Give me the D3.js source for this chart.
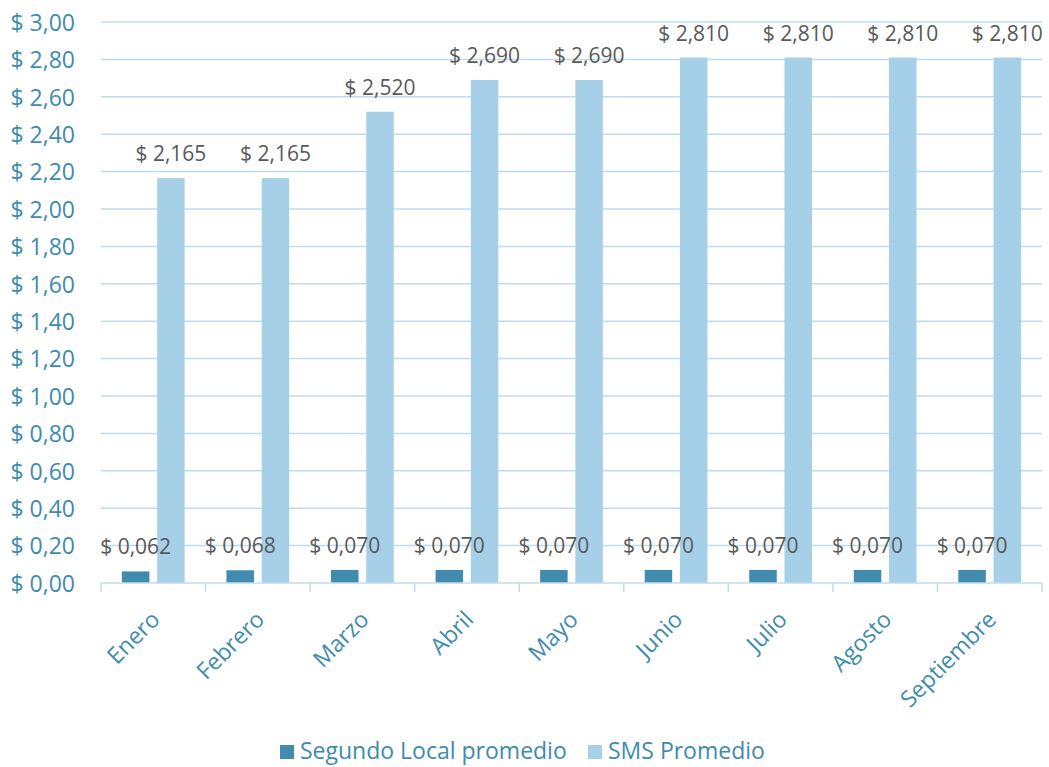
<!DOCTYPE html>
<html><head><meta charset="utf-8">
<script src="https://cdn.jsdelivr.net/npm/d3@7"></script>
<style>body{margin:0;background:#fff;}svg{display:block;font-family:"Open Sans",sans-serif;}</style>
</head><body><svg id="c" width="1049" height="767"></svg>
<script>
const months = ["Enero","Febrero","Marzo","Abril","Mayo","Junio","Julio","Agosto","Septiembre"];
const seriesNames = ["Segundo Local promedio","SMS Promedio"];
const segundoLocal = [0.062,0.068,0.070,0.070,0.070,0.070,0.070,0.070,0.070];
const smsPromedio = [2.165,2.165,2.520,2.690,2.690,2.810,2.810,2.810,2.810];
const yTicks = [0,0.2,0.4,0.6,0.8,1.0,1.2,1.4,1.6,1.8,2.0,2.2,2.4,2.6,2.8,3.0];
const colors = ["#418cae","#a6d0e8"];

const svg = d3.select("#c");
const L = 101, R = 1042, T = 22, B = 583;
const x0 = d3.scaleBand().domain(months).range([L,R]).paddingInner(0.4).paddingOuter(0.2);
const x1 = d3.scaleBand().domain(seriesNames).range([0,x0.bandwidth()]).paddingInner(0.22);
const y = d3.scaleLinear().domain([0,3]).range([B,T]);

const fmtAxis = v => "$ " + v.toFixed(2).replace(".",",");
const fmtLab = v => "$ " + v.toFixed(3).replace(".",",");

// gridlines
svg.append("g").selectAll("line").data(yTicks.filter(d=>d>0)).join("line")
  .attr("x1",L).attr("x2",R).attr("y1",d=>y(d)).attr("y2",d=>y(d))
  .attr("stroke","#c0dcea").attr("stroke-width",1.5);

// y axis labels
const ya = svg.append("g").attr("transform",`translate(${L},0)`)
  .call(d3.axisLeft(y).tickValues(yTicks).tickFormat(fmtAxis).tickSize(0).tickPadding(26));
ya.select(".domain").remove();
ya.selectAll("text").attr("fill","#3e8cad").attr("dy","0.36em").style("font-size","23px").style("font-family","'Open Sans',sans-serif");

// bars
const data = months.map((m,i)=>({m, vals:[{s:seriesNames[0],v:segundoLocal[i]},{s:seriesNames[1],v:smsPromedio[i]}]}));
const g = svg.append("g").selectAll("g").data(data).join("g")
  .attr("transform",d=>`translate(${x0(d.m)},0)`);
g.selectAll("rect").data(d=>d.vals).join("rect")
  .attr("x",d=>x1(d.s)).attr("width",x1.bandwidth())
  .attr("y",d=>y(d.v)).attr("height",d=>B-y(d.v))
  .attr("fill",(d,i)=>colors[i]);
g.selectAll("text").data(d=>d.vals).join("text")
  .attr("x",d=>x1(d.s)+x1.bandwidth()/2).attr("y",d=>y(d.v)-17)
  .attr("text-anchor","middle").attr("fill","#595959").style("font-size","21px")
  .text(d=>fmtLab(d.v));

// x axis
const xa = svg.append("g").attr("transform",`translate(0,${B})`);
xa.append("line").attr("x1",L).attr("x2",R).attr("stroke","#c0dcea").attr("stroke-width",1.5);
const step = x0.step();
xa.selectAll("line.tk").data(d3.range(months.length+1)).join("line").attr("class","tk")
  .attr("x1",i=>L+i*step).attr("x2",i=>L+i*step).attr("y1",0).attr("y2",9)
  .attr("stroke","#c0dcea").attr("stroke-width",1.5);
xa.selectAll("text").data(months).join("text")
  .attr("transform",d=>`translate(${x0(d)+x0.bandwidth()/2+8},${38}) rotate(-45)`)
  .attr("text-anchor","end").attr("fill","#3e8cad").style("font-size","23px")
  .text(d=>d);

// legend
const lg = svg.append("g").attr("transform","translate(0,752)");
const legX = [280,588];
seriesNames.forEach((s,i)=>{
  lg.append("rect").attr("x",legX[i]).attr("y",-7).attr("width",14).attr("height",14).attr("fill",colors[i]);
  lg.append("text").attr("x",legX[i]+20).attr("y",7).attr("fill","#3e8cad").style("font-size","23px").text(s);
});
</script></body></html>
